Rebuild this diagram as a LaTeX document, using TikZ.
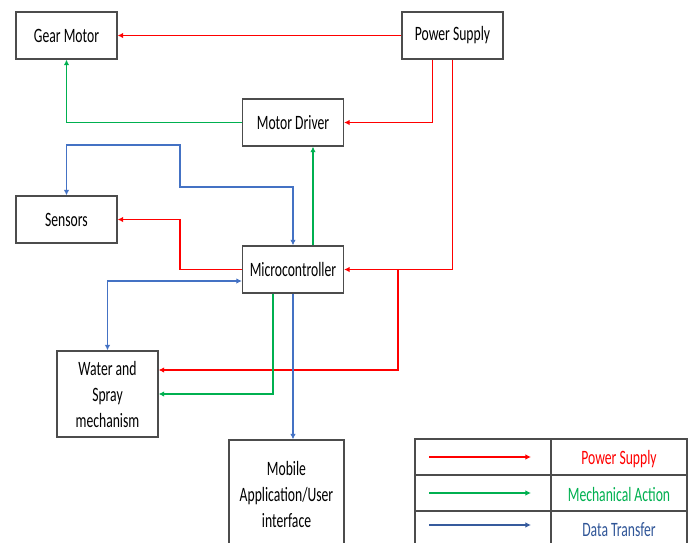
\documentclass[tikz,border=0pt]{standalone}
\usepackage{fontspec}
\setmainfont{Carlito}[FakeStretch=0.67]
\usetikzlibrary{arrows.meta,calc}
\definecolor{mechgreen}{RGB}{0,176,80}
\definecolor{dtblue}{RGB}{68,114,196}
\definecolor{keyblue}{RGB}{47,85,151}

\begin{document}
\begin{tikzpicture}[x=0.02cm,y=-0.02cm,
 >={Latex[length=3.2pt,width=3.2pt]},
 every node/.style={font=\fontsize{11.6}{14.8}\selectfont},
 block/.style={draw=black!70, line width=0.7pt, minimum width=2.02cm, minimum height=0.94cm, align=center, inner sep=1pt},
 pw/.style={draw=red, line width=0.9pt, ->},
 mech/.style={draw=mechgreen, line width=0.8pt, ->},
 dt/.style={draw=dtblue, line width=0.8pt}]
 \useasboundingbox (0,0) rectangle (691,542);

 \node[block] (gear) at (66.5,35.5) {Gear Motor};
 \node[block] (power) at (452.5,35.5) {Power Supply};
 \node[block] (driver) at (293,122.5) {Motor Driver};
 \node[block] (sensors) at (66.5,219.5) {Sensors};
 \node[block] (mcu) at (293,269.5) {Microcontroller};
 \node[block, minimum height=1.72cm] (spray) at (107.5,394) {Water and\\Spray\\mechanism};
 \node[block, minimum width=2.3cm, minimum height=2.16cm] (mobile) at (286.5,494) {Mobile\\Application/User\\interface};

 % power supply lines
 \draw[pw] (power.west) -- (gear.east);
 \draw[pw] ([xshift=-0.4cm]power.south) |- (driver.east);
 \draw[pw] (power.south) |- (mcu.east);
 \draw[pw] ($(mcu.east)+(54,0)$) |- ([yshift=0.48cm]spray.east);
 \draw[pw] (mcu.west) -- ++(-62,0) |- (sensors.east);

 % mechanical action
 \draw[mech] (driver.west) -| (gear.south);
 \draw[mech] ([xshift=0.4cm]mcu.north) -- ([xshift=0.4cm]driver.south);
 \draw[mech] ([xshift=-0.4cm]mcu.south) |- (spray.east);

 % data transfer
 \draw[dt,<->] (sensors.north) |- (180,145) -- (180,187) -| (mcu.north);
 \draw[dt,<->] (spray.north) |- ([yshift=-0.23cm]mcu.west);
 \draw[dt,->] (mcu.south) -- (mcu.south |- mobile.north);

 % key
 \draw[draw=black!70, line width=0.7pt] (415,439) rectangle (687,550);
 \draw[draw=black!70, line width=0.7pt] (415,475) -- (687,475) (415,511) -- (687,511) (551,439) -- (551,550);
 \draw[pw] (429,457) -- (531,457);
 \draw[mech] (429,493) -- (531,493);
 \draw[dt,->,draw=dtblue!80!black] (429,525) -- (531,525);
 \node[text=red] (keypw) at (619,459) {Power Supply};
 \node[text=mechgreen] (keymech) at (619,494) {Mechanical Action};
 \node[text=keyblue] (keydt) at (619,530) {Data Transfer};
\end{tikzpicture}
\end{document}
